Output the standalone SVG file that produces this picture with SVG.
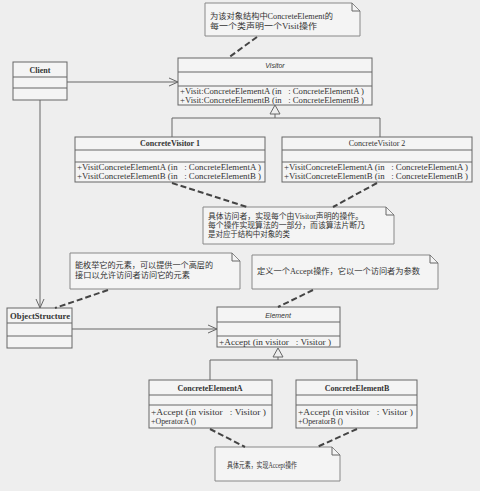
<svg xmlns="http://www.w3.org/2000/svg" width="480" height="491" viewBox="0 0 480 491" xml:space="preserve">
<defs>
<style>
.bx{fill:#f4f4f4;stroke:#666;stroke-width:1}
.ln{fill:none;stroke:#666;stroke-width:1}
.nt{fill:#f4f4f4;stroke:#888;stroke-width:1}
.dash{fill:none;stroke:#444;stroke-width:2;stroke-dasharray:6,3}
.t{font-family:"Liberation Serif","Noto Sans CJK SC",serif;font-size:8px;fill:#333;white-space:pre}
.b{font-weight:bold;text-anchor:middle}
.i{font-style:italic;text-anchor:middle;font-family:"Liberation Sans",sans-serif;font-size:7px}
.cn{font-family:"Liberation Serif","Noto Sans CJK SC",serif;font-size:8px;fill:#333}
</style>
<marker id="open" markerWidth="10" markerHeight="10" refX="9" refY="5" orient="auto" markerUnits="userSpaceOnUse">
<path d="M0,1 L9,5 L0,9" fill="none" stroke="#666" stroke-width="1"/>
</marker>
</defs>
<rect x="0" y="0" width="480" height="491" fill="#eeeeee"/>

<g id="note-visitor">
<path class="nt" d="M205,3 H352 L360,11 V36 H205 Z"/>
<path class="ln" d="M352,3 V11 H360"/>
<text class="cn" x="210" y="19" textLength="123" lengthAdjust="spacingAndGlyphs">为该对象结构中ConcreteElement的</text>
<text class="cn" x="210" y="29" textLength="107" lengthAdjust="spacingAndGlyphs">每一个类声明一个Visit操作</text>
</g>

<g id="client">
<rect class="bx" x="13" y="62" width="54" height="38"/>
<line class="ln" x1="13" y1="77" x2="67" y2="77"/>
<line class="ln" x1="13" y1="88" x2="67" y2="88"/>
<text class="t b" x="40" y="73">Client</text>
</g>

<g id="visitor">
<rect class="bx" x="178" y="58" width="194" height="47"/>
<line class="ln" x1="178" y1="72" x2="372" y2="72"/>
<line class="ln" x1="178" y1="86" x2="372" y2="86"/>
<text class="t i" x="275" y="68">Visitor</text>
<text class="t" x="180" y="94" textLength="184" lengthAdjust="spacingAndGlyphs">+Visit:ConcreteElementA (in   : ConcreteElementA )</text>
<text class="t" x="180" y="103" textLength="184" lengthAdjust="spacingAndGlyphs">+Visit:ConcreteElementB (in   : ConcreteElementB )</text>
</g>

<g id="concrete-visitor-1">
<rect class="bx" x="75" y="137" width="190" height="45"/>
<line class="ln" x1="75" y1="150" x2="265" y2="150"/>
<line class="ln" x1="75" y1="162" x2="265" y2="162"/>
<text class="t b" x="170" y="146">ConcreteVisitor 1</text>
<text class="t" x="77" y="170" textLength="184" lengthAdjust="spacingAndGlyphs">+VisitConcreteElementA (in   : ConcreteElementA )</text>
<text class="t" x="77" y="179" textLength="184" lengthAdjust="spacingAndGlyphs">+VisitConcreteElementB (in   : ConcreteElementB )</text>
</g>

<g id="concrete-visitor-2">
<rect class="bx" x="282" y="137" width="190" height="45"/>
<line class="ln" x1="282" y1="150" x2="472" y2="150"/>
<line class="ln" x1="282" y1="162" x2="472" y2="162"/>
<text class="t" x="377" y="146" text-anchor="middle">ConcreteVisitor 2</text>
<text class="t" x="284" y="170" textLength="184" lengthAdjust="spacingAndGlyphs">+VisitConcreteElementA (in   : ConcreteElementA )</text>
<text class="t" x="284" y="179" textLength="184" lengthAdjust="spacingAndGlyphs">+VisitConcreteElementB (in   : ConcreteElementB )</text>
</g>

<g id="note-concrete-visitor">
<path class="nt" d="M203,207 H386 L394,215 V244 H203 Z"/>
<path class="ln" d="M386,207 V215 H394"/>
<text class="cn" x="208" y="219" textLength="155" lengthAdjust="spacingAndGlyphs">具体访问者，实现每个由Visitor声明的操作。</text>
<text class="cn" x="208" y="228" textLength="157" lengthAdjust="spacingAndGlyphs">每个操作实现算法的一部分，而该算法片断乃</text>
<text class="cn" x="208" y="237" textLength="82" lengthAdjust="spacingAndGlyphs">是对应于结构中对象的类</text>
</g>

<g id="note-object-structure">
<path class="nt" d="M70,253 H232 L240,261 V289 H70 Z"/>
<path class="ln" d="M232,253 V261 H240"/>
<text class="cn" x="75" y="268" textLength="138" lengthAdjust="spacingAndGlyphs">能枚举它的元素，可以提供一个高层的</text>
<text class="cn" x="75" y="278" textLength="115" lengthAdjust="spacingAndGlyphs">接口以允许访问者访问它的元素</text>
</g>

<g id="note-element">
<path class="nt" d="M252,255 H430 L438,263 V289 H252 Z"/>
<path class="ln" d="M430,255 V263 H438"/>
<text class="cn" x="257" y="274" textLength="163" lengthAdjust="spacingAndGlyphs">定义一个Accept操作，它以一个访问者为参数</text>
</g>

<g id="object-structure">
<rect class="bx" x="7" y="308" width="65" height="40"/>
<line class="ln" x1="7" y1="323" x2="72" y2="323"/>
<line class="ln" x1="7" y1="336" x2="72" y2="336"/>
<text class="t b" x="40" y="319" textLength="60" lengthAdjust="spacingAndGlyphs">ObjectStructure</text>
</g>

<g id="element">
<rect class="bx" x="217" y="307" width="123" height="40"/>
<line class="ln" x1="217" y1="322" x2="340" y2="322"/>
<line class="ln" x1="217" y1="336" x2="340" y2="336"/>
<text class="t i" x="278" y="318">Element</text>
<text class="t" x="219" y="345" textLength="112" lengthAdjust="spacingAndGlyphs">+Accept (in visitor   : Visitor )</text>
</g>

<g id="concrete-element-a">
<rect class="bx" x="149" y="380" width="123" height="48"/>
<line class="ln" x1="149" y1="395" x2="272" y2="395"/>
<line class="ln" x1="149" y1="405" x2="272" y2="405"/>
<text class="t b" x="210" y="391">ConcreteElementA</text>
<text class="t" x="151" y="415" textLength="115" lengthAdjust="spacingAndGlyphs">+Accept (in visitor   : Visitor )</text>
<text class="t" x="151" y="424" textLength="45" lengthAdjust="spacingAndGlyphs">+OperatorA ()</text>
</g>

<g id="concrete-element-b">
<rect class="bx" x="296" y="380" width="121" height="48"/>
<line class="ln" x1="296" y1="395" x2="417" y2="395"/>
<line class="ln" x1="296" y1="405" x2="417" y2="405"/>
<text class="t b" x="357" y="391">ConcreteElementB</text>
<text class="t" x="298" y="415" textLength="115" lengthAdjust="spacingAndGlyphs">+Accept (in visitor   : Visitor )</text>
<text class="t" x="298" y="424" textLength="45" lengthAdjust="spacingAndGlyphs">+OperatorB ()</text>
</g>

<g id="note-concrete-element">
<path class="nt" d="M215,447 H332 L340,455 V481 H215 Z"/>
<path class="ln" d="M332,447 V455 H340"/>
<text class="cn" x="227" y="468" textLength="70" lengthAdjust="spacingAndGlyphs">具体元素，实现Accept操作</text>
</g>

<g id="connectors">
<line class="ln" x1="67" y1="82" x2="178" y2="82" marker-end="url(#open)"/>
<line class="ln" x1="40" y1="100" x2="40" y2="308" marker-end="url(#open)"/>
<line class="ln" x1="72" y1="329" x2="217" y2="329" marker-end="url(#open)"/>
<path class="ln" d="M275,105 L270,114 H280 Z"/>
<path class="ln" d="M275,114 V118 M172,118 H380 M172,118 V137 M380,118 V137"/>
<path class="ln" d="M278,348 L273,357 H283 Z"/>
<path class="ln" d="M278,357 V360 M210,360 H357 M210,360 V380 M357,360 V380"/>
<line class="dash" x1="257" y1="37" x2="228" y2="58"/>
<line class="dash" x1="172" y1="183" x2="247" y2="207"/>
<line class="dash" x1="377" y1="183" x2="333" y2="207"/>
<line class="dash" x1="108" y1="290" x2="55" y2="308"/>
<line class="dash" x1="313" y1="290" x2="278" y2="307"/>
<line class="dash" x1="210" y1="429" x2="245" y2="447"/>
<line class="dash" x1="357" y1="429" x2="317" y2="447"/>
</g>
</svg>
